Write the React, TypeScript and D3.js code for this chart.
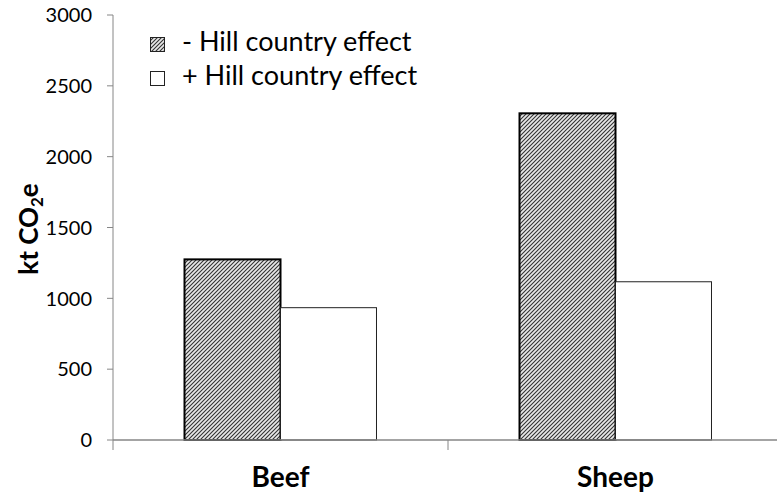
import React from "react";
import * as d3 from "d3";

const categories = ["Beef", "Sheep"];
const seriesNames = ["- Hill country effect", "+ Hill country effect"];
const withoutEffect = [1275, 2306];
const withEffect = [934, 1117];
const yTicks = [0, 500, 1000, 1500, 2000, 2500, 3000];

const W = 777;
const H = 497;
const AXIS = "#868686";
const FONT = "Lato, 'Open Sans', sans-serif";

export default function App() {
  const x0 = d3.scaleBand<string>().domain(categories).range([113, 783]).padding(0);
  const x1 = d3
    .scaleBand<string>()
    .domain(["a", "b"])
    .range([0, x0.bandwidth()])
    .paddingInner(0)
    .paddingOuter(0.745);
  const y = d3.scaleLinear().domain([0, 3000]).range([440, 15]);

  const rows = categories.map((c, i) => ({ c, a: withoutEffect[i], b: withEffect[i] }));

  return (
    <svg width={W} height={H} style={{ position: "absolute", left: 0, top: 0, background: "#fff" }}>
      <defs>
        <pattern id="hatch" patternUnits="userSpaceOnUse" width={4} height={4}>
          <rect width={4} height={4} fill="#e8e8e8" />
          <path d="M-1,1 l2,-2 M0,4 l4,-4 M3,5 l2,-2" stroke="#333" strokeWidth={1.1} />
        </pattern>
      </defs>

      {/* y axis */}
      <line x1={113} x2={113} y1={y(3000)} y2={450} stroke={AXIS} strokeWidth={1} />
      {yTicks.map((t) => (
        <g key={t}>
          <line x1={107} x2={113} y1={y(t)} y2={y(t)} stroke={AXIS} />
          <text x={92} y={y(t)} dy="0.36em" textAnchor="end" fontFamily={FONT} fontSize={20} fill="#000">
            {t}
          </text>
        </g>
      ))}

      {/* bars */}
      {rows.map((r) => {
        const bx = x0(r.c)!;
        return (
          <g key={r.c}>
            <rect
              x={bx + x1("a")!}
              y={y(r.a)}
              width={x1.bandwidth()}
              height={y(0) - y(r.a)}
              fill="url(#hatch)"
              stroke="#000"
              strokeWidth={2}
            />
            <rect
              x={bx + x1("b")!}
              y={y(r.b)}
              width={x1.bandwidth()}
              height={y(0) - y(r.b)}
              fill="#fff"
              stroke="#222"
              strokeWidth={1}
            />
          </g>
        );
      })}

      {/* x axis */}
      <line x1={113} x2={W} y1={y(0)} y2={y(0)} stroke={AXIS} strokeWidth={1.5} />
      {categories.slice(1).map((c) => (
        <line key={c} x1={x0(c)!} x2={x0(c)!} y1={y(0)} y2={450} stroke={AXIS} />
      ))}
      {categories.map((c) => (
        <text
          key={c}
          x={x0(c)! + x0.bandwidth() / 2}
          y={487}
          textAnchor="middle"
          fontFamily={FONT}
          fontWeight="bold"
          fontSize={28}
          fill="#000"
        >
          {c}
        </text>
      ))}

      {/* y label */}
      <text
        transform="translate(38,229) rotate(-90)"
        textAnchor="middle"
        fontFamily={FONT}
        fontWeight="bold"
        fontSize={26}
        fill="#000"
      >
        kt CO<tspan fontSize={17} dy={5}>2</tspan>
        <tspan dy={-5}>e</tspan>
      </text>

      {/* legend */}
      {seriesNames.map((s, i) => (
        <g key={s} transform={`translate(150, ${37 + i * 34})`}>
          <rect
            x={0.5}
            y={0.5}
            width={14}
            height={14}
            fill={i === 0 ? "url(#hatch)" : "#fff"}
            stroke="#222"
            strokeWidth={1}
          />
          <text x={32} y={14} fontFamily={FONT} fontSize={27} fill="#000">
            {s}
          </text>
        </g>
      ))}
    </svg>
  );
}
